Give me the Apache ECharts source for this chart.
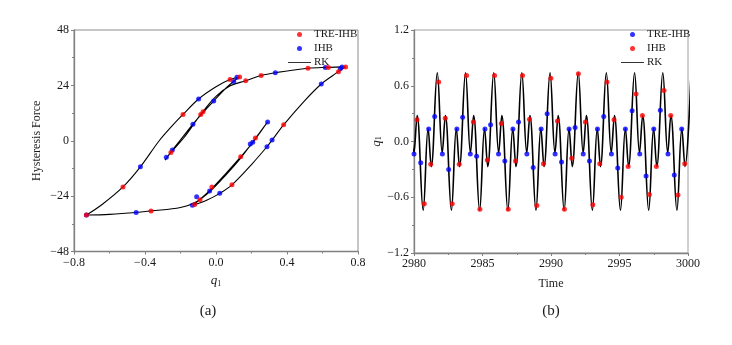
<!DOCTYPE html>
<html>
<head>
<meta charset="utf-8">
<script src="https://cdn.jsdelivr.net/npm/echarts@6/dist/echarts.min.js"></script>
<style>
    html, body { margin: 0; padding: 0; background: #fff; }
    #chart { width: 732px; height: 345px; }
</style>
</head>
<body>
<div id="chart"></div>
<script>
// (a) hysteresis loop: q1 vs force, RK path in time order
var loopRK = [
    [0.73, 32.0], [0.70, 30.6], [0.66, 28.4], [0.593, 24.6], [0.50, 17.4], [0.381, 6.9], [0.316, 0.3],
    [0.287, -2.6], [0.20, -10.3], [0.09, -19.1], [0.021, -22.8], [-0.05, -25.7], [-0.13, -28.0],
    [-0.09, -25.4], [-0.02, -20.4], [0.06, -13.8], [0.14, -6.9], [0.21, -0.5], [0.29, 8.1],
    [0.22, 0.8], [0.14, -7.4], [0.05, -15.3], [-0.03, -21.7], [-0.11, -26.4], [-0.20, -28.9],
    [-0.366, -30.4], [-0.45, -31.1], [-0.60, -31.9], [-0.73, -32.2],
    [-0.64, -27.5], [-0.524, -20.0], [-0.426, -11.3], [-0.32, 0.0], [-0.25, 6.2], [-0.186, 11.4],
    [-0.098, 18.1], [0.0, 23.4], [0.079, 26.5], [0.133, 27.6],
    [0.10, 25.8], [0.045, 22.0], [-0.013, 17.2], [-0.073, 12.2], [-0.13, 7.2], [-0.20, 0.4],
    [-0.246, -4.0], [-0.287, -8.4],
    [-0.254, -5.1], [-0.18, 1.4], [-0.086, 11.4], [0.0, 19.2], [0.08, 23.8], [0.167, 26.0],
    [0.254, 28.3], [0.334, 29.5], [0.518, 31.4], [0.633, 31.8], [0.73, 32.0]
];
var loopTre = [
    [-0.73, -32.2], [-0.524, -20.0], [-0.186, 11.4], [0.079, 26.5], [0.133, 27.6], [-0.073, 12.6],
    [-0.086, 11.4], [-0.254, -5.1], [0.167, 26.0], [0.254, 28.3], [0.518, 31.4], [0.633, 31.7],
    [0.73, 32.0], [0.69, 29.9], [0.381, 6.9], [0.09, -19.1], [-0.12, -27.6], [-0.366, -30.4],
    [-0.09, -25.6], [-0.023, -20.0], [0.139, -6.9], [0.222, 1.2]
];
var loopIhb = [
    [-0.73, -32.2], [-0.426, -11.3], [-0.098, 18.1], [0.1, 25.7], [0.118, 27.5], [-0.013, 17.2],
    [-0.13, 7.2], [-0.246, -4.0], [-0.28, -7.2], [0.334, 29.5], [0.616, 31.7], [0.71, 32.0],
    [0.70, 31.2], [0.593, 24.6], [0.316, 0.3], [0.287, -2.6], [0.021, -22.8], [-0.133, -28.0],
    [-0.45, -31.1], [-0.109, -24.3], [-0.036, -21.8], [0.193, -1.4], [0.207, -0.6], [0.291, 8.1]
];

// (b) time history of q1 (RK extrema)
var timeRK = [
    [2979.64, 0.74],
    [2980.00, -0.12], [2980.23, 0.28], [2980.67, -0.74], [2981.03, 0.14], [2981.26, -0.27], [2981.70, 0.74],
    [2982.06, -0.12], [2982.29, 0.28], [2982.73, -0.74], [2983.09, 0.14], [2983.32, -0.27], [2983.76, 0.74],
    [2984.12, -0.12], [2984.35, 0.28], [2984.79, -0.74], [2985.15, 0.14], [2985.38, -0.27], [2985.82, 0.74],
    [2986.18, -0.12], [2986.41, 0.28], [2986.85, -0.74], [2987.21, 0.14], [2987.44, -0.27], [2987.87, 0.74],
    [2988.23, -0.12], [2988.46, 0.28], [2988.90, -0.74], [2989.26, 0.14], [2989.49, -0.27], [2989.93, 0.74],
    [2990.29, -0.12], [2990.52, 0.28], [2990.96, -0.74], [2991.32, 0.14], [2991.55, -0.27], [2991.99, 0.74],
    [2992.35, -0.12], [2992.58, 0.28], [2993.02, -0.74], [2993.38, 0.14], [2993.61, -0.27], [2994.04, 0.74],
    [2994.40, -0.12], [2994.63, 0.28], [2995.07, -0.74], [2995.43, 0.14], [2995.66, -0.27], [2996.10, 0.74],
    [2996.46, -0.12], [2996.69, 0.28], [2997.13, -0.74], [2997.49, 0.14], [2997.72, -0.27], [2998.16, 0.74],
    [2998.52, -0.12], [2998.75, 0.28], [2999.19, -0.74], [2999.55, 0.14], [2999.78, -0.27], [3000.22, 0.74]
];
var timeTre = [
    [2980.00, -0.135], [2980.49, -0.23], [2981.07, 0.135], [2981.51, 0.27], [2982.07, -0.135],
    [2982.53, -0.30], [2983.13, 0.135], [2983.55, 0.26], [2984.11, -0.135], [2984.57, -0.16],
    [2985.18, 0.135], [2985.59, 0.18], [2986.17, -0.135], [2986.63, -0.21], [2987.22, 0.135],
    [2987.63, 0.21], [2988.24, -0.135], [2988.70, -0.28], [2989.28, 0.135], [2989.72, 0.30],
    [2990.30, -0.135], [2990.77, -0.22], [2991.32, 0.135], [2991.76, 0.15], [2992.35, -0.135],
    [2992.81, -0.21], [2993.39, 0.135], [2993.85, 0.27], [2994.41, -0.135], [2994.87, -0.285],
    [2995.43, 0.135], [2995.92, 0.33], [2996.48, -0.135], [2996.94, -0.37], [2997.50, 0.135],
    [2997.98, 0.335], [2998.54, -0.135], [2999.00, -0.36], [2999.54, 0.135]
];
var timeIhb = [
    [2980.22, 0.235], [2980.75, -0.67], [2981.22, -0.245], [2981.80, 0.64], [2982.28, 0.25],
    [2982.79, -0.67], [2983.30, -0.245], [2983.84, 0.71], [2984.33, 0.21], [2984.81, -0.73],
    [2985.35, -0.20], [2985.88, 0.71], [2986.37, 0.195], [2986.88, -0.73], [2987.41, -0.21],
    [2987.92, 0.71], [2988.43, 0.24], [2988.97, -0.69], [2989.45, -0.24], [2989.99, 0.68],
    [2990.47, 0.22], [2990.98, -0.73], [2991.52, -0.18], [2992.00, 0.73], [2992.51, 0.21],
    [2993.05, -0.68], [2993.56, -0.24], [2994.09, 0.64], [2994.60, 0.235], [2995.12, -0.60],
    [2995.63, -0.27], [2996.21, 0.51], [2996.67, 0.28], [2997.18, -0.57], [2997.69, -0.27],
    [2998.25, 0.55], [2998.74, 0.28], [2999.27, -0.575], [2999.76, -0.24]
];

var RED = '#ff0000';
var BLUE = '#0000ff';
var FONT = 'Liberation Serif';
var AXIS_GRAY = '#808080';

var chart = echarts.init(document.getElementById('chart'));

function minus(v, digits) {
    var s = digits ? Math.abs(v).toFixed(digits) : String(Math.abs(Math.round(v)));
    return v < 0 ? '\u2212' + s : s;
}

var q1Rich = {
    i: { fontFamily: FONT, fontStyle: 'italic', fontSize: 13, color: '#1a1a1a', lineHeight: 14 },
    s: { fontFamily: FONT, fontSize: 8, color: '#1a1a1a', lineHeight: 8, verticalAlign: 'bottom' }
};

function valueAxis(opt) {
    return Object.assign({
        type: 'value',
        scale: true,
        nameLocation: 'middle',
        nameTextStyle: { fontFamily: FONT, fontSize: 12, color: '#1a1a1a' },
        axisLine: { show: true, onZero: false, lineStyle: { color: AXIS_GRAY, width: 1.3 } },
        axisTick: { show: true, inside: false, length: 3, lineStyle: { color: AXIS_GRAY } },
        minorTick: { show: true, splitNumber: 2, length: 2, lineStyle: { color: AXIS_GRAY } },
        splitLine: { show: false },
        axisLabel: { fontFamily: FONT, fontSize: 12, color: '#1a1a1a', margin: 5 }
    }, opt);
}

function legendFor(left, colors) {
    return {
        orient: 'vertical',
        left: left,
        top: 29,
        padding: 0,
        itemWidth: 23,
        itemHeight: 5,
        itemGap: 3,
        textStyle: { fontFamily: FONT, fontSize: 11, color: '#1a1a1a', padding: [0, 0, 0, -2] },
        data: [
            { name: 'TRE-IHB', icon: 'circle', itemStyle: { color: colors[0] } },
            { name: 'IHB', icon: 'circle', itemStyle: { color: colors[1] } },
            { name: 'RK', icon: 'path://M0,0 L23,0 L23,1 L0,1 Z', itemStyle: { color: '#333' } }
        ],
        selectedMode: false
    };
}

var option = {
    backgroundColor: '#fff',
    animation: false,
    grid: [
        { left: 74, top: 30, width: 284, height: 221.5, show: true, borderColor: '#8c8c8c', borderWidth: 1 },
        { left: 414, top: 30, width: 274, height: 223, show: true, borderColor: '#a0a0a0', borderWidth: 1 }
    ],
    legend: [legendFor(288, [RED, BLUE]), legendFor(621, [BLUE, RED])],
    xAxis: [
        valueAxis({
            gridIndex: 0, min: -0.8, max: 0.8, interval: 0.4,
            name: '{i|q}{s|1}', nameGap: 22,
            nameTextStyle: { rich: q1Rich },
            axisLabel: { fontFamily: FONT, fontSize: 12, color: '#1a1a1a', margin: 5,
                formatter: function (v) { return minus(v, 1); } }
        }),
        valueAxis({
            gridIndex: 1, min: 2980, max: 3000, interval: 5,
            name: 'Time', nameGap: 25,
            axisLabel: { fontFamily: FONT, fontSize: 12, color: '#1a1a1a', margin: 5,
                formatter: function (v) { return String(v); } }
        })
    ],
    yAxis: [
        valueAxis({
            gridIndex: 0, min: -48, max: 48, interval: 24,
            name: 'Hysteresis Force', nameGap: 31,
            axisLabel: { fontFamily: FONT, fontSize: 12, color: '#1a1a1a', margin: 5,
                formatter: function (v) { return minus(v, 0); } }
        }),
        valueAxis({
            gridIndex: 1, min: -1.2, max: 1.2, interval: 0.6,
            name: '{i|q}{s|1}', nameGap: 25,
            nameTextStyle: { rich: q1Rich },
            axisLabel: { fontFamily: FONT, fontSize: 12, color: '#1a1a1a', margin: 5,
                formatter: function (v) { return minus(v, 1); } }
        })
    ],
    series: [
        {
            name: 'RK', type: 'line', xAxisIndex: 0, yAxisIndex: 0,
            data: loopRK, symbol: 'none', smooth: 0.35,
            lineStyle: { color: '#000', width: 1.1 }, z: 2
        },
        {
            name: 'IHB', type: 'scatter', xAxisIndex: 0, yAxisIndex: 0,
            data: loopIhb, symbolSize: 5, itemStyle: { color: BLUE }, z: 3
        },
        {
            name: 'TRE-IHB', type: 'scatter', xAxisIndex: 0, yAxisIndex: 0,
            data: loopTre, symbolSize: 5, itemStyle: { color: RED }, z: 4
        },
        {
            name: 'RK', type: 'line', xAxisIndex: 1, yAxisIndex: 1,
            data: timeRK, symbol: 'none', smooth: 0.4,
            lineStyle: { color: '#000', width: 1.6 }, z: 2
        },
        {
            name: 'TRE-IHB', type: 'scatter', xAxisIndex: 1, yAxisIndex: 1,
            data: timeTre, symbolSize: 5, itemStyle: { color: BLUE }, z: 3
        },
        {
            name: 'IHB', type: 'scatter', xAxisIndex: 1, yAxisIndex: 1,
            data: timeIhb, symbolSize: 5, itemStyle: { color: RED }, z: 4
        }
    ],
    graphic: [
        { type: 'text', x: 208, y: 311, style: { text: '(a)', font: '15px "Liberation Serif"', fill: '#1a1a1a', textAlign: 'center', textVerticalAlign: 'middle' } },
        { type: 'text', x: 551, y: 311, style: { text: '(b)', font: '15px "Liberation Serif"', fill: '#1a1a1a', textAlign: 'center', textVerticalAlign: 'middle' } }
    ]
};

chart.setOption(option);
</script>
</body>
</html>
